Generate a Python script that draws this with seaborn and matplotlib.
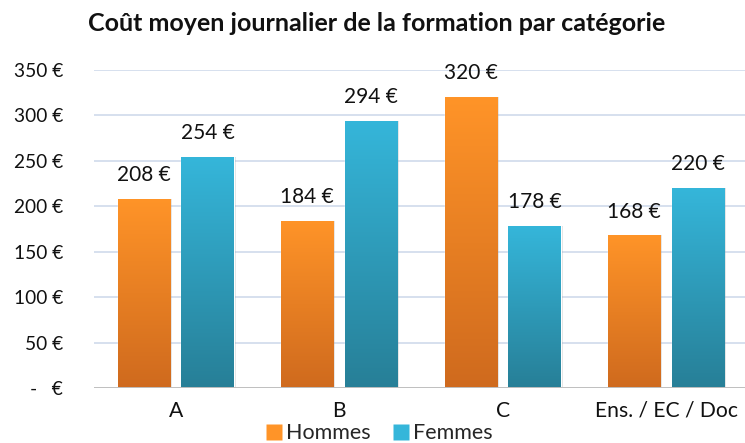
import numpy as np
import pandas as pd
import matplotlib
matplotlib.use("Agg")
import matplotlib.pyplot as plt
import seaborn as sns
from matplotlib.colors import LinearSegmentedColormap
from matplotlib.patches import Rectangle
from matplotlib.lines import Line2D

categories = ["A", "B", "C", "Ens. / EC / Doc"]
hommes = [208, 184, 320, 168]
femmes = [254, 294, 178, 220]
series = ["Hommes", "Femmes"]
yticks = [0, 50, 100, 150, 200, 250, 300, 350]
ytick_labels = ["-   €", "50 €", "100 €", "150 €", "200 €", "250 €", "300 €", "350 €"]

# top / bottom colours of each series gradient
grad = {
    "Hommes": ("#FF9428", "#CF6A1E"),
    "Femmes": ("#35B6DA", "#277F97"),
}

df = pd.DataFrame({
    "cat": categories * 2,
    "serie": ["Hommes"] * len(categories) + ["Femmes"] * len(categories),
    "val": hommes + femmes,
})

sns.set_theme(style="white")
plt.rcParams["font.family"] = ["Lato", "DejaVu Sans"]

fig = plt.figure(figsize=(7.45, 4.43), dpi=100)
ax = fig.add_axes([0.126, 0.124, 0.878, 0.718])

sns.barplot(data=df, x="cat", y="val", hue="serie", order=categories,
            hue_order=series, palette=[grad[s][0] for s in series],
            width=0.78, gap=0.18, ax=ax, legend=False, zorder=3)

ax.set_ylim(0, 350)
ax.set_xlim(-0.5, len(categories) - 0.5)
ax.set_yticks(yticks)
ax.set_yticklabels(ytick_labels, fontsize=13.8, color="#111111")
ax.tick_params(axis="x", labelsize=15.2, colors="#111111", length=0, pad=9)
ax.tick_params(axis="y", length=0, pad=22)
for lab in ax.get_yticklabels():
    lab.set_horizontalalignment("right")
ax.set_xlabel("")
ax.set_ylabel("")
for sp in ax.spines.values():
    sp.set_visible(False)
for y in yticks[1:]:
    ax.axhline(y, color="#D6E0EE", lw=1.4, zorder=0)
ax.axhline(0, color="#BFBFBF", lw=1.4, zorder=4)

# gradient fill + soft shadow for every bar, with value labels
vals_by_serie = {"Hommes": hommes, "Femmes": femmes}
for container, s in zip(ax.containers, series):
    top_c, bot_c = grad[s]
    cmap = LinearSegmentedColormap.from_list(s, [bot_c, top_c])
    for patch, v in zip(container.patches, vals_by_serie[s]):
        x0 = patch.get_x()
        w = patch.get_width()
        h = patch.get_height()
        shadow = Rectangle((x0 + 0.012, -3), w, h + 3, facecolor="#000000",
                           alpha=0.12, edgecolor="none", zorder=2)
        ax.add_patch(shadow)
        img = np.linspace(0, 1, 256).reshape(-1, 1)
        im = ax.imshow(img, cmap=cmap, origin="lower", aspect="auto",
                       extent=(x0, x0 + w, 0, h), zorder=3.5)
        im.set_clip_path(patch)
        patch.set_facecolor("none")
        ax.annotate(f"{v} €", (x0 + w / 2, h), xytext=(0, 10),
                    textcoords="offset points", ha="center", va="bottom",
                    fontsize=15, color="#111111", zorder=5)

ax.set_xlim(-0.5, len(categories) - 0.5)
ax.set_ylim(0, 350)

fig.text(0.505, 0.948, "Coût moyen journalier de la formation par catégorie",
         ha="center", va="center", fontsize=18, fontweight="bold",
         color="#111111")

handles = [Line2D([], [], marker="s", linestyle="none", markersize=12,
                  markerfacecolor=grad[s][0], markeredgecolor="none")
           for s in series]
fig.legend(handles, series, loc="center", bbox_to_anchor=(0.507, 0.022),
           ncol=2, frameon=False, fontsize=15.5, handletextpad=0.05,
           columnspacing=0.9, handlelength=1.0, borderaxespad=0,
           borderpad=0)

fig.savefig("out.png", dpi=100)
